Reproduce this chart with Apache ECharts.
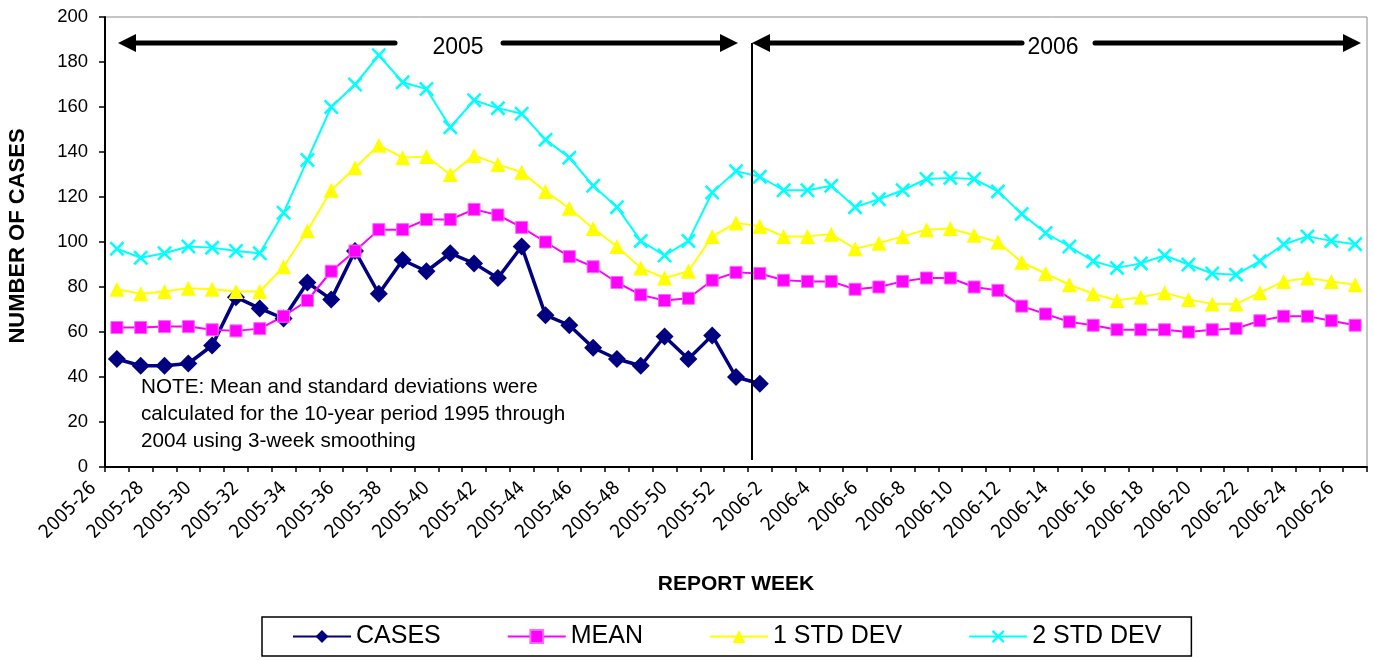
<!DOCTYPE html>
<html>
<head>
<meta charset="utf-8">
<script src="https://cdn.jsdelivr.net/npm/echarts@6/dist/echarts.min.js"></script>
<style>
  html, body { margin: 0; padding: 0; background: #fff; }
  #chart { width: 1374px; height: 660px; }
</style>
</head>
<body>
<div id="chart"></div>
<script>
// report weeks 2005-26 .. 2006-26
var weeks = [
  '2005-26', '2005-27', '2005-28', '2005-29', '2005-30', '2005-31', '2005-32', '2005-33', '2005-34',
  '2005-35', '2005-36', '2005-37', '2005-38', '2005-39', '2005-40', '2005-41', '2005-42', '2005-43',
  '2005-44', '2005-45', '2005-46', '2005-47', '2005-48', '2005-49', '2005-50', '2005-51', '2005-52',
  '2006-1', '2006-2', '2006-3', '2006-4', '2006-5', '2006-6', '2006-7', '2006-8', '2006-9',
  '2006-10', '2006-11', '2006-12', '2006-13', '2006-14', '2006-15', '2006-16', '2006-17', '2006-18',
  '2006-19', '2006-20', '2006-21', '2006-22', '2006-23', '2006-24', '2006-25', '2006-26'
];

// reported cases (only up to 2006-1)
var cases = [48, 45, 45, 46, 54, 75.5, 70.5, 66, 82, 74.5, 96, 77, 92, 87, 95, 90.5, 84, 98,
  67.5, 63, 53, 48, 45, 58, 48, 58.5, 40, 37];

// 10-year mean
var mean = [62, 62, 62.4, 62.4, 61, 60.5, 61.5, 67, 74, 87, 96, 105.5, 105.5, 110, 110, 114.5, 112, 106.5,
  100, 93.5, 89, 82, 76.5, 74, 75, 83, 86.5, 86, 83, 82.5, 82.5, 79, 80, 82.5, 84, 84,
  80, 78.5, 71.5, 68, 64.5, 63, 61, 61, 61, 60, 61, 61.5, 65, 67, 67, 65, 63];

// mean + 1 std dev
var std1 = [79, 77, 78, 79.5, 79, 78, 78, 89, 105, 123, 133, 143, 137.5, 138, 130, 138.5, 134.5, 131,
  122.5, 115, 106, 98, 88.5, 84, 87, 102.5, 108.5, 107, 102.5, 102.5, 103.5, 97, 99.5, 102.5, 105.5, 106,
  103, 100, 91, 86, 81, 77, 74, 75.5, 77.5, 74.5, 72.5, 72.5, 77.5, 82.5, 84, 82.5, 81];

// mean + 2 std dev
var std2 = [97, 93, 95, 98, 97.5, 96, 95, 113, 136.5, 160, 170, 183, 171, 168, 151, 163, 159.5, 157,
  145.5, 137.5, 125, 115.5, 100.5, 94, 100.5, 122, 131.5, 129, 123, 123, 125, 115.5, 119, 123, 128, 128.5,
  128, 122.5, 112.5, 104, 98, 91.5, 88.5, 90.5, 94, 90, 86, 85.5, 91.5, 99, 102.5, 100.5, 99];

var yTicks = [0, 20, 40, 60, 80, 100, 120, 140, 160, 180, 200];

var noteLines = [
  'NOTE: Mean and standard deviations were',
  'calculated for the 10-year period 1995 through',
  '2004 using 3-week smoothing'
];

var FONT = '"Liberation Sans", Arial, sans-serif';
var NARROW = '"Liberation Sans Narrow", "DejaVu Sans Condensed", "Liberation Sans", sans-serif';

// X symbol as a filled path (two thin bars)
var crossPath = 'path://M0,1.2L1.2,0L10,8.8L8.8,10Z M8.8,0L10,1.2L1.2,10L0,8.8Z';

var myChart = echarts.init(document.getElementById('chart'), null, { renderer: 'canvas' });

// annotation arrows helper
function arrow(x1, x2, y) {
  var dir = x2 > x1 ? 1 : -1;
  var hx = x2 - dir * 16;
  return [
    {
      type: 'line',
      shape: { x1: x1, y1: y, x2: hx, y2: y },
      style: { stroke: '#000', lineWidth: 5, lineCap: 'round' },
      z: 100
    },
    {
      type: 'polygon',
      shape: { points: [[x2, y], [hx - dir * 2, y - 9], [hx - dir * 2, y + 9]] },
      style: { fill: '#000' },
      z: 100
    }
  ];
}

var graphics = [].concat(
  arrow(395, 118, 43),
  arrow(503, 738, 43),
  arrow(1022, 752, 43),
  arrow(1095, 1361, 43),
  [
    {
      type: 'line',
      shape: { x1: 752, y1: 43, x2: 752, y2: 460 },
      style: { stroke: '#000', lineWidth: 2 },
      z: 100
    },
    {
      type: 'text',
      x: 458, y: 48,
      style: { text: '2005', font: '23px ' + FONT, fill: '#000', align: 'center', verticalAlign: 'middle' },
      z: 100
    },
    {
      type: 'text',
      x: 1053, y: 48,
      style: { text: '2006', font: '23px ' + FONT, fill: '#000', align: 'center', verticalAlign: 'middle' },
      z: 100
    },
    {
      type: 'text',
      x: 141, y: 374,
      style: {
        text: noteLines.join('\n'),
        font: '20.7px ' + FONT,
        lineHeight: 27,
        fill: '#000'
      },
      z: 100
    }
  ]
);

myChart.setOption({
  backgroundColor: '#ffffff',
  animation: false,
  textStyle: { fontFamily: FONT, color: '#000' },
  grid: {
    left: 105,
    right: 7,
    top: 17,
    bottom: 193,
    outerBoundsMode: 'none',
    show: true,
    borderColor: '#8c8c8c',
    borderWidth: 1
  },
  legend: {
    left: 262,
    top: 617,
    padding: [7, 30, 7, 30],
    borderColor: '#000',
    borderWidth: 1.5,
    itemGap: 66,
    itemWidth: 58,
    itemHeight: 16,
    textStyle: { fontSize: 25, fontFamily: FONT, color: '#000' },
    data: ['CASES', 'MEAN', '1 STD DEV', '2 STD DEV']
  },
  xAxis: {
    type: 'category',
    data: weeks,
    boundaryGap: true,
    name: 'REPORT WEEK',
    nameLocation: 'middle',
    nameGap: 107,
    nameTextStyle: { fontSize: 21, fontWeight: 'bold', fontFamily: FONT, color: '#000' },
    axisLine: { lineStyle: { color: '#000', width: 2 } },
    axisTick: { show: true, interval: 0, length: 5, lineStyle: { color: '#000', width: 1.5 } },
    axisLabel: {
      interval: 1,
      rotate: 45,
      margin: -5,
      padding: [0, 33, 0, 0],
      fontSize: 19,
      fontFamily: NARROW,
      color: '#000'
    },
    splitLine: { show: false }
  },
  yAxis: {
    type: 'value',
    min: yTicks[0],
    max: yTicks[yTicks.length - 1],
    interval: yTicks[1] - yTicks[0],
    name: 'NUMBER OF CASES',
    nameLocation: 'middle',
    nameRotate: 90,
    nameGap: 76,
    nameTextStyle: { fontSize: 22, fontWeight: 'bold', fontFamily: FONT, color: '#000', padding: [0, 0, 0, 12] },
    axisLine: { show: true, lineStyle: { color: '#000', width: 2 } },
    axisTick: { show: true, length: 6, lineStyle: { color: '#000', width: 1.5 } },
    axisLabel: { fontSize: 18.5, margin: 17, color: '#000', fontFamily: FONT },
    splitLine: { show: false }
  },
  series: [
    {
      name: 'CASES',
      type: 'line',
      data: cases,
      symbol: 'diamond',
      symbolSize: 18,
      showAllSymbol: true,
      color: '#000080',
      lineStyle: { width: 3.5, color: '#000080' },
      itemStyle: { color: '#000080' }
    },
    {
      name: 'MEAN',
      type: 'line',
      data: mean,
      symbol: 'rect',
      symbolSize: 12,
      showAllSymbol: true,
      color: '#ff00ff',
      lineStyle: { width: 2, color: '#ff00ff' },
      itemStyle: { color: '#ff00ff', borderColor: '#ff66ff', borderWidth: 1 }
    },
    {
      name: '1 STD DEV',
      type: 'line',
      data: std1,
      symbol: 'triangle',
      symbolSize: 15,
      showAllSymbol: true,
      color: '#ffff00',
      lineStyle: { width: 2, color: '#ffff00' },
      itemStyle: { color: '#ffff00' }
    },
    {
      name: '2 STD DEV',
      type: 'line',
      data: std2,
      symbol: crossPath,
      symbolSize: 15,
      showAllSymbol: true,
      color: '#00ffff',
      lineStyle: { width: 2, color: '#00ffff' },
      itemStyle: { color: '#00ffff' }
    }
  ],
  graphic: graphics
});
</script>
</body>
</html>
